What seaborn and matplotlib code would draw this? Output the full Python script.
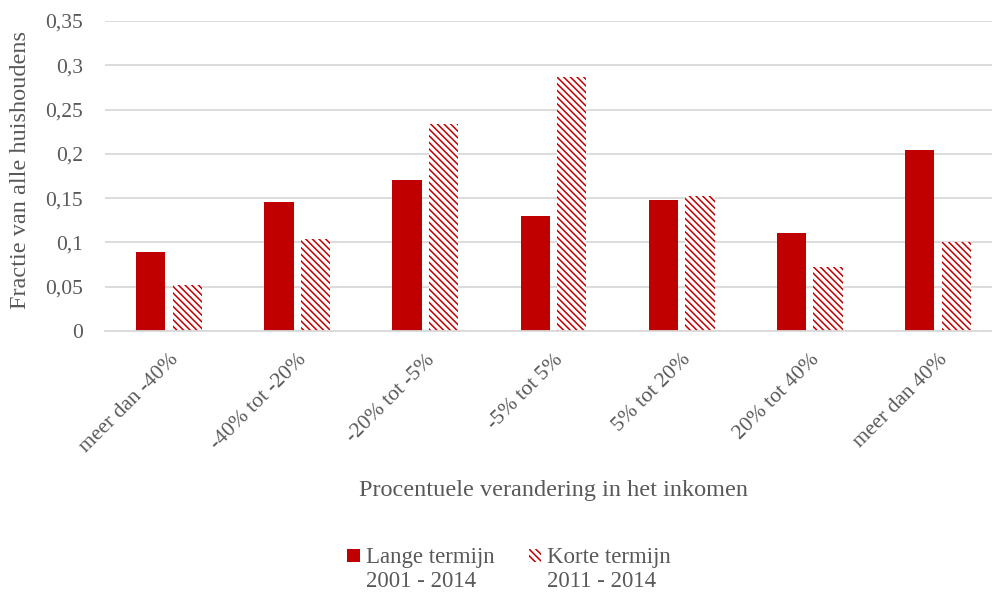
import pandas as pd
import seaborn as sns
import matplotlib.pyplot as plt
from matplotlib.ticker import FuncFormatter, MultipleLocator
from matplotlib.patches import Patch, Rectangle
from matplotlib.legend_handler import HandlerPatch

# ---------- data ----------
categories = ["meer dan -40%", "-40% tot -20%", "-20% tot -5%", "-5% tot 5%",
              "5% tot 20%", "20% tot 40%", "meer dan 40%"]
lange = [0.089, 0.146, 0.170, 0.130, 0.148, 0.111, 0.204]
korte = [0.052, 0.104, 0.234, 0.287, 0.152, 0.072, 0.100]
series_names = ["Lange termijn\n2001 - 2014", "Korte termijn\n2011 - 2014"]

df = pd.DataFrame({
    "cat": categories * 2,
    "val": lange + korte,
    "serie": [series_names[0]] * len(categories) + [series_names[1]] * len(categories),
})

RED = "#C00000"
GREY = "#595959"
HATCH = "\\\\\\\\\\"

sns.set_theme(style="white")
plt.rcParams["font.family"] = ["Liberation Serif", "DejaVu Serif"]
plt.rcParams["hatch.linewidth"] = 1.1
plt.rcParams["hatch.color"] = RED

fig = plt.figure(figsize=(9.92, 5.93), dpi=100)
ax = fig.add_axes([105 / 992, 1 - 331 / 593, 897 / 992, 310 / 593])

sns.barplot(data=df, x="cat", y="val", hue="serie", order=categories,
            palette=[RED, RED], width=0.57, gap=0.2, ax=ax, legend=False,
            saturation=1)

n = len(categories)
for i, p in enumerate(ax.patches[:2 * n]):
    p.set_linewidth(0)
    if i >= n:
        p.set_facecolor("white")
        p.set_edgecolor(RED)
        p.set_hatch(HATCH)

# ---------- axes ----------
ax.set_ylim(0, 0.35)
ax.yaxis.set_major_locator(MultipleLocator(0.05))
ax.yaxis.set_major_formatter(FuncFormatter(lambda v, _: f"{round(v, 2):g}".replace(".", ",")))
ax.grid(axis="y", color="#D9D9D9", linewidth=1.3)
ax.set_axisbelow(True)
for s in ["top", "right", "left"]:
    ax.spines[s].set_visible(False)
ax.spines["bottom"].set_color("#D9D9D9")
ax.spines["bottom"].set_linewidth(1.3)
ax.tick_params(axis="both", length=0, colors=GREY)
ax.tick_params(axis="y", pad=16, labelsize=15.5)
ax.tick_params(axis="x", pad=14, labelsize=15.5)
plt.setp(ax.get_xticklabels(), rotation=45, ha="right", rotation_mode="anchor")

ax.set_xlabel("Procentuele verandering in het inkomen", fontsize=17.5, color=GREY, va="center")
ax.set_ylabel("Fractie van alle huishoudens", fontsize=17.5, color=GREY, va="center")
ax.xaxis.set_label_coords(0.5, -0.513)
ax.yaxis.set_label_coords(-0.0945, 0.52)

# ---------- legend ----------
def top_square(legend, orig_handle, xdescent, ydescent, width, height, fontsize):
    # square next to the first text line, as in Excel
    return Rectangle((-xdescent, -ydescent + 0.62 * fontsize), width, height)

handles = [Patch(facecolor=RED, edgecolor=RED, linewidth=0),
           Patch(facecolor="white", edgecolor=RED, hatch=HATCH, linewidth=0)]
fig.legend(handles, series_names, loc="center", bbox_to_anchor=(0.513, 0.039),
           ncol=2, frameon=False, fontsize=16.5, labelcolor=GREY,
           handlelength=0.55, handleheight=0.55, handletextpad=0.25,
           columnspacing=1.5, handler_map={Patch: HandlerPatch(patch_func=top_square)})

fig.savefig("out.png", dpi=100)
